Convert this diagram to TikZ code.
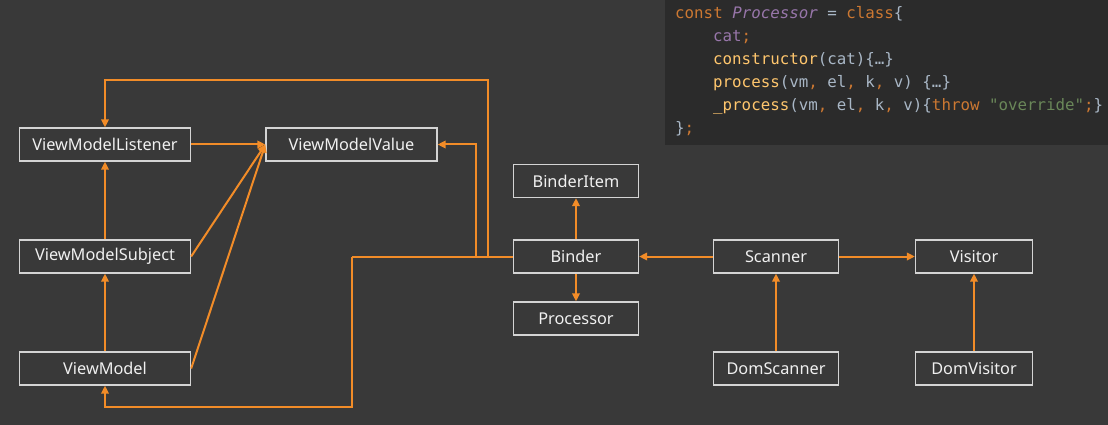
\documentclass[tikz,border=0pt]{standalone}
\usepackage{fontspec}
\setmainfont{Noto Sans}
\newfontfamily\codefont{DejaVu Sans Mono}
\usetikzlibrary{arrows.meta}
\definecolor{bgc}{HTML}{393939}
\definecolor{codebg}{HTML}{2B2B2B}
\definecolor{orng}{HTML}{F28C28}
\definecolor{boxc}{HTML}{D4D4D4}
\definecolor{txtc}{HTML}{F0F0F0}
\definecolor{ckw}{HTML}{CC7832}
\definecolor{cpur}{HTML}{9876AA}
\definecolor{cfn}{HTML}{FFC66D}
\definecolor{cgr}{HTML}{A9B7C6}
\definecolor{cstr}{HTML}{6A8759}
\tikzset{
  cls/.style={draw=boxc, line width=1.3pt, fill=bgc, text=txtc, minimum height=33pt, inner sep=0pt, font=\fontsize{16.3}{19}\selectfont},
  wide/.style={cls, minimum width=171pt},
  mid/.style={cls, minimum width=125pt},
  nar/.style={cls, minimum width=117pt},
  ln/.style={draw=orng, line width=2pt},
  arr/.style={ln, -{Triangle[length=8pt,width=7.5pt]}},
  code/.style={anchor=base west, inner sep=0pt, text=cgr, font=\codefont\fontsize{15.8}{19}\selectfont}
}
\begin{document}
\begin{tikzpicture}[x=1pt,y=-1pt]
\fill[bgc] (0,0) rectangle (1108,425);
\useasboundingbox (0,0) rectangle (1108,425);
\fill[codebg] (665,0) rectangle (1108,145);
% code
\node[code] (c1) at (675,18.5) {\textcolor{ckw}{const} \textcolor{cpur}{\itshape Processor} = \textcolor{ckw}{class}\{};
\node[code] (c2) at (713,41.5) {\textcolor{cpur}{cat}\textcolor{ckw}{;}};
\node[code] (c3) at (713,64.5) {\textcolor{cfn}{constructor}(cat)\{…\}};
\node[code] (c4) at (713,87.5) {\textcolor{cfn}{process}(vm\textcolor{ckw}{,} el\textcolor{ckw}{,} k\textcolor{ckw}{,} v) \{…\}};
\node[code] (c5) at (713,110.5) {\textcolor{cfn}{\_process}(vm\textcolor{ckw}{,} el\textcolor{ckw}{,} k\textcolor{ckw}{,} v)\{\textcolor{ckw}{throw} \textcolor{cstr}{"override"}\textcolor{ckw}{;}\}};
\node[code] (c6) at (675,133.5) {\}\textcolor{ckw}{;}};
% nodes
\node[wide] (lis) at (105,144.5) {ViewModelListener};
\node[wide] (val) at (351.5,144.5) {ViewModelValue};
\node[wide] (sub) at (105,256.5) {ViewModelSubject};
\node[wide] (vm)  at (105,368.5) {ViewModel};
\node[mid] (bi)   at (576,181) {BinderItem};
\node[mid] (bin)  at (576,256.5) {Binder};
\node[mid] (proc) at (576,318.5) {Processor};
\node[mid] (scn)  at (776,256.5) {Scanner};
\node[mid] (ds)   at (776,368.5) {DomScanner};
\node[nar] (vis)  at (974,256.5) {Visitor};
\node[nar] (dv)   at (974,368.5) {DomVisitor};
% junctions
\coordinate (j1) at (488,256.5);
\coordinate (j2) at (476,256.5);
\coordinate (j3) at (352,256.5);
\coordinate (t1) at (488,80);
\coordinate (b1) at (352,407);
% connectors
\draw[arr] (sub) -- (lis);
\draw[arr] (vm) -- (sub);
\draw[arr] (lis.east) -- (val.west);
\draw[arr] (sub.east) -- (val.west);
\draw[arr] (vm.east) -- (val.west);
\draw[ln] (bin.west) -- (j3);
\draw[arr] (j1) -- (t1) -| (lis.north);
\draw[arr] (j2) |- (val.east);
\draw[arr] (j3) -- (b1) -| (vm.south);
\draw[arr] (bin) -- (bi);
\draw[arr] (bin) -- (proc);
\draw[arr] (scn) -- (bin);
\draw[arr] (scn) -- (vis);
\draw[arr] (ds) -- (scn);
\draw[arr] (dv) -- (vis);
\end{tikzpicture}
\end{document}
